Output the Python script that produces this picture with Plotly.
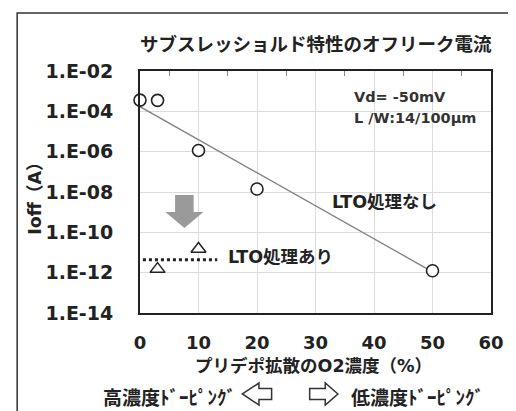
import plotly.graph_objects as go

# ---- data ----
no_lto_x = [0, 3, 10, 20, 50]
no_lto_y = [3.6e-4, 3.5e-4, 1.15e-6, 1.4e-8, 1.25e-12]
lto_x = [3, 10]
lto_y = [1.5e-12, 1.5e-11]
trend_x = [0, 50]
trend_y = [1.7e-4, 1.1e-12]
lto_avg_x = [0.5, 13.2]
lto_avg_y = [4.4e-12, 4.4e-12]
y_tickvals = [1e-14, 1e-12, 1e-10, 1e-8, 1e-6, 1e-4, 1e-2]
y_ticktext = ["1.E-14", "1.E-12", "1.E-10", "1.E-08", "1.E-06", "1.E-04", "1.E-02"]
x_tickvals = [0, 10, 20, 30, 40, 50, 60]
x_minor_tickvals = [5, 15, 25, 35, 45, 55]

OFF = 8  # page body margin offset
W, H = 516 - OFF, 411 - OFF
PL, PR, PT, PB = 140, 500, 71, 313  # plot area in page pixels
L, T = PL - OFF, PT - OFF
R = W - (PR - OFF)
B = H - (PB - OFF)
PW, PH = PR - PL, PB - PT


def px(x):
    return (x - PL) / PW


def py(y):
    return (PB - y) / PH


FONT = "DejaVu Sans, Noto Sans CJK JP, sans-serif"
CJK = "Noto Sans CJK JP, DejaVu Sans, sans-serif"

fig = go.Figure()
fig.add_trace(go.Scatter(x=trend_x, y=trend_y, mode="lines",
                         line=dict(color="#808080", width=1.3), showlegend=False))
fig.add_trace(go.Scatter(x=lto_avg_x, y=lto_avg_y, mode="lines",
                         line=dict(color="#222", width=3, dash="dot"), showlegend=False))
fig.add_trace(go.Scatter(x=no_lto_x, y=no_lto_y, mode="markers",
                         marker=dict(symbol="circle", size=12, color="white",
                                     line=dict(color="#222", width=1.6)),
                         showlegend=False, cliponaxis=False))
fig.add_trace(go.Scatter(x=lto_x, y=lto_y, mode="markers",
                         marker=dict(symbol="triangle-up", size=13, color="white",
                                     line=dict(color="#222", width=1.5)),
                         showlegend=False, cliponaxis=False))
# invisible carrier trace for the top minor-tick axis
fig.add_trace(go.Scatter(x=trend_x, y=trend_y, mode="lines", xaxis="x2",
                         line=dict(color="rgba(0,0,0,0)", width=0), showlegend=False,
                         hoverinfo="skip"))


def path(pts):
    return "M " + " L ".join(f"{px(a):.5f},{py(b):.5f}" for a, b in pts) + " Z"


shapes = []
# outer frame
shapes.append(dict(type="rect", xref="paper", yref="paper",
                   x0=px(14), y0=py(13), x1=px(540), y1=py(440),
                   line=dict(color="#333", width=1.5), fillcolor="rgba(0,0,0,0)", layer="below"))
# gray down arrow
shapes.append(dict(type="path", xref="paper", yref="paper",
                   path=path([(176, 195), (195, 195), (195, 212), (205, 212), (185.5, 228), (166, 212), (176, 212)]),
                   fillcolor="#9a9a9a", line=dict(width=0)))
# hollow left arrow
shapes.append(dict(type="path", xref="paper", yref="paper",
                   path=path([(245, 394), (262, 383), (262, 388.5), (275, 388.5), (275, 399.5), (262, 399.5), (262, 405)]),
                   fillcolor="white", line=dict(color="#333", width=1.5)))
# hollow right arrow
shapes.append(dict(type="path", xref="paper", yref="paper",
                   path=path([(343, 394), (330, 383), (330, 388.5), (314, 388.5), (314, 399.5), (330, 399.5), (330, 405)]),
                   fillcolor="white", line=dict(color="#333", width=1.5)))

ann = []


def add_text(text, x, y, xanchor="center", size=16, bold=True, family=FONT, color="#222", angle=0):
    t = f"<b>{text}</b>" if bold else text
    ann.append(dict(text=t, x=px(x), y=py(y), xref="paper", yref="paper",
                    xanchor=xanchor, yanchor="middle", showarrow=False, textangle=angle,
                    font=dict(family=family, size=size, color=color)))


add_text("サブスレッショルド特性のオフリーク電流", 321, 43, size=18.5, family=CJK)
add_text("Vd= -50mV", 357, 97, xanchor="left", size=14.5, color="#333")
add_text("L /W:14/100μm", 357, 118, xanchor="left", size=14.5, color="#333")
add_text("LTO処理なし", 335, 202, xanchor="left", size=17.5)
add_text("LTO処理あり", 228, 257, xanchor="left", size=17.5)
add_text("プリデポ拡散のO2濃度（%）", 318, 366, size=17.5)
add_text("Ioff（A）", 32, 194, size=17.5, angle=-90)
add_text("高濃度ﾄﾞｰﾋﾟﾝｸﾞ", 241, 396, xanchor="right", size=19, family=CJK)
add_text("低濃度ﾄﾞｰﾋﾟﾝｸﾞ", 354, 396, xanchor="left", size=19, family=CJK)

fig.update_layout(
    width=W, height=H,
    margin=dict(l=L, r=R, t=T, b=B),
    paper_bgcolor="white", plot_bgcolor="white",
    font=dict(family=FONT, color="#222"),
    shapes=shapes, annotations=ann,
    xaxis=dict(range=[0, 60], tickvals=x_tickvals, showgrid=True, gridcolor="#dcdcdc", gridwidth=1,
               showline=True, linecolor="#222", linewidth=2, mirror=True, zeroline=False,
               ticks="", tickfont=dict(size=18, family=FONT, weight="bold", color="#222"),
               ticklabelstandoff=12),
    xaxis2=dict(range=[0, 60], overlaying="x", side="top", tickvals=x_minor_tickvals,
                ticks="inside", ticklen=5, tickwidth=1, tickcolor="#888",
                showticklabels=False, showgrid=False, zeroline=False, showline=False),
    yaxis=dict(type="log", range=[-14, -2], tickvals=y_tickvals, ticktext=y_ticktext,
               showgrid=True, gridcolor="#dcdcdc", gridwidth=1,
               showline=True, linecolor="#222", linewidth=2, mirror=True, zeroline=False,
               ticks="", tickfont=dict(size=19, family=FONT, weight="bold", color="#222"),
               ticklabelstandoff=21),
)

fig.write_html("out.html")
